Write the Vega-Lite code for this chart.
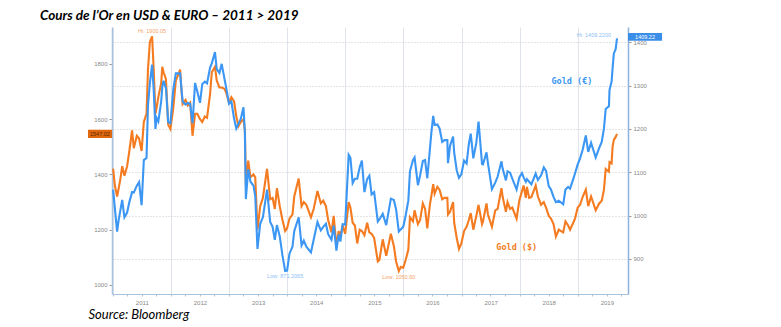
{
  "$schema": "https://vega.github.io/schema/vega-lite/v6.json",
  "width": 516,
  "height": 267,
  "autosize": {"type": "none"},
  "padding": {"left": 112, "top": 27, "right": 153, "bottom": 33},
  "background": "white",
  "config": {"view": {"stroke": null}, "font": "Lato"},
  "title": {
    "text": "Cours de l’Or en USD & EURO – 2011 > 2019",
    "anchor": "start",
    "frame": "group",
    "dx": -72,
    "dy": 11,
    "offset": 5,
    "baseline": "alphabetic",
    "font": "Lato",
    "fontSize": 13.5,
    "fontStyle": "italic",
    "fontWeight": "bold",
    "color": "#000"
  },
  "datasets": {
    "gold": [
      {"date":"2011-01-03","usd":1421,"eur":1060},
      {"date":"2011-01-14","usd":1360,"eur":1017},
      {"date":"2011-01-28","usd":1320,"eur":963},
      {"date":"2011-02-07","usd":1350,"eur":990},
      {"date":"2011-02-18","usd":1385,"eur":1013},
      {"date":"2011-03-01","usd":1430,"eur":1036},
      {"date":"2011-03-15","usd":1395,"eur":996},
      {"date":"2011-04-01","usd":1430,"eur":1007},
      {"date":"2011-04-15","usd":1485,"eur":1031},
      {"date":"2011-05-02","usd":1560,"eur":1054},
      {"date":"2011-05-13","usd":1495,"eur":1053},
      {"date":"2011-06-01","usd":1540,"eur":1069},
      {"date":"2011-06-15","usd":1530,"eur":1077},
      {"date":"2011-07-01","usd":1485,"eur":1024},
      {"date":"2011-07-15","usd":1590,"eur":1128},
      {"date":"2011-08-01","usd":1620,"eur":1133},
      {"date":"2011-08-10","usd":1780,"eur":1254},
      {"date":"2011-08-22","usd":1880,"eur":1306},
      {"date":"2011-09-05","usd":1900,"eur":1348},
      {"date":"2011-09-15","usd":1780,"eur":1290},
      {"date":"2011-09-26","usd":1620,"eur":1200},
      {"date":"2011-10-03","usd":1640,"eur":1225},
      {"date":"2011-10-14","usd":1680,"eur":1217},
      {"date":"2011-11-01","usd":1730,"eur":1263},
      {"date":"2011-11-08","usd":1790,"eur":1297},
      {"date":"2011-11-16","usd":1770,"eur":1311},
      {"date":"2011-12-01","usd":1745,"eur":1293},
      {"date":"2011-12-15","usd":1580,"eur":1215},
      {"date":"2011-12-29","usd":1565,"eur":1213},
      {"date":"2012-01-16","usd":1640,"eur":1291},
      {"date":"2012-02-01","usd":1740,"eur":1328},
      {"date":"2012-02-28","usd":1780,"eur":1328},
      {"date":"2012-03-08","usd":1700,"eur":1290},
      {"date":"2012-03-15","usd":1655,"eur":1263},
      {"date":"2012-04-02","usd":1670,"eur":1256},
      {"date":"2012-04-16","usd":1650,"eur":1260},
      {"date":"2012-05-01","usd":1660,"eur":1258},
      {"date":"2012-05-16","usd":1540,"eur":1213},
      {"date":"2012-06-01","usd":1620,"eur":1306},
      {"date":"2012-06-15","usd":1620,"eur":1286},
      {"date":"2012-07-02","usd":1600,"eur":1260},
      {"date":"2012-07-16","usd":1590,"eur":1303},
      {"date":"2012-08-01","usd":1610,"eur":1309},
      {"date":"2012-08-15","usd":1605,"eur":1305},
      {"date":"2012-09-03","usd":1690,"eur":1341},
      {"date":"2012-09-14","usd":1770,"eur":1351},
      {"date":"2012-10-04","usd":1790,"eur":1377},
      {"date":"2012-10-15","usd":1740,"eur":1338},
      {"date":"2012-11-01","usd":1715,"eur":1329},
      {"date":"2012-11-15","usd":1715,"eur":1350},
      {"date":"2012-12-03","usd":1710,"eur":1315},
      {"date":"2012-12-14","usd":1695,"eur":1294},
      {"date":"2012-12-31","usd":1660,"eur":1258},
      {"date":"2013-01-15","usd":1680,"eur":1263},
      {"date":"2013-02-01","usd":1665,"eur":1224},
      {"date":"2013-02-15","usd":1610,"eur":1201},
      {"date":"2013-03-01","usd":1575,"eur":1212},
      {"date":"2013-03-15","usd":1590,"eur":1223},
      {"date":"2013-04-01","usd":1600,"eur":1250},
      {"date":"2013-04-10","usd":1560,"eur":1191},
      {"date":"2013-04-16","usd":1360,"eur":1038},
      {"date":"2013-05-01","usd":1450,"eur":1107},
      {"date":"2013-05-15","usd":1390,"eur":1078},
      {"date":"2013-06-03","usd":1400,"eur":1069},
      {"date":"2013-06-14","usd":1390,"eur":1045},
      {"date":"2013-06-28","usd":1200,"eur":923},
      {"date":"2013-07-15","usd":1285,"eur":981},
      {"date":"2013-08-01","usd":1315,"eur":996},
      {"date":"2013-08-27","usd":1420,"eur":1060},
      {"date":"2013-09-16","usd":1310,"eur":985},
      {"date":"2013-10-01","usd":1315,"eur":974},
      {"date":"2013-10-15","usd":1275,"eur":944},
      {"date":"2013-10-28","usd":1350,"eur":978},
      {"date":"2013-11-15","usd":1285,"eur":952},
      {"date":"2013-12-02","usd":1235,"eur":908},
      {"date":"2013-12-19","usd":1195,"eur":872},
      {"date":"2013-12-31","usd":1205,"eur":873},
      {"date":"2014-01-15","usd":1240,"eur":912},
      {"date":"2014-02-03","usd":1255,"eur":928},
      {"date":"2014-02-14","usd":1320,"eur":964},
      {"date":"2014-03-14","usd":1385,"eur":996},
      {"date":"2014-04-01","usd":1285,"eur":931},
      {"date":"2014-04-15","usd":1300,"eur":942},
      {"date":"2014-05-01","usd":1290,"eur":928},
      {"date":"2014-05-30","usd":1245,"eur":915},
      {"date":"2014-06-16","usd":1275,"eur":944},
      {"date":"2014-07-10","usd":1340,"eur":985},
      {"date":"2014-07-31","usd":1295,"eur":966},
      {"date":"2014-08-15","usd":1305,"eur":974},
      {"date":"2014-09-01","usd":1285,"eur":981},
      {"date":"2014-09-15","usd":1235,"eur":957},
      {"date":"2014-10-06","usd":1190,"eur":944},
      {"date":"2014-10-20","usd":1250,"eur":977},
      {"date":"2014-11-06","usd":1140,"eur":919},
      {"date":"2014-11-20","usd":1195,"eur":956},
      {"date":"2014-12-01","usd":1175,"eur":940},
      {"date":"2014-12-15","usd":1215,"eur":980},
      {"date":"2014-12-31","usd":1185,"eur":979},
      {"date":"2015-01-22","usd":1300,"eur":1140},
      {"date":"2015-02-02","usd":1280,"eur":1133},
      {"date":"2015-02-16","usd":1225,"eur":1075},
      {"date":"2015-03-02","usd":1215,"eur":1085},
      {"date":"2015-03-17","usd":1150,"eur":1085},
      {"date":"2015-04-01","usd":1200,"eur":1111},
      {"date":"2015-04-15","usd":1195,"eur":1127},
      {"date":"2015-05-01","usd":1180,"eur":1054},
      {"date":"2015-05-18","usd":1225,"eur":1084},
      {"date":"2015-06-01","usd":1190,"eur":1092},
      {"date":"2015-06-15","usd":1185,"eur":1049},
      {"date":"2015-07-01","usd":1170,"eur":1054},
      {"date":"2015-07-24","usd":1085,"eur":986},
      {"date":"2015-08-03","usd":1090,"eur":991},
      {"date":"2015-08-24","usd":1165,"eur":1004},
      {"date":"2015-09-15","usd":1105,"eur":978},
      {"date":"2015-10-14","usd":1185,"eur":1039},
      {"date":"2015-11-02","usd":1140,"eur":1036},
      {"date":"2015-11-16","usd":1085,"eur":1014},
      {"date":"2015-12-03","usd":1050,"eur":963},
      {"date":"2015-12-15","usd":1065,"eur":968},
      {"date":"2015-12-31","usd":1062,"eur":974},
      {"date":"2016-01-15","usd":1090,"eur":1000},
      {"date":"2016-02-01","usd":1128,"eur":1035},
      {"date":"2016-02-11","usd":1245,"eur":1102},
      {"date":"2016-03-01","usd":1230,"eur":1128},
      {"date":"2016-03-11","usd":1270,"eur":1134},
      {"date":"2016-04-01","usd":1220,"eur":1070},
      {"date":"2016-04-15","usd":1235,"eur":1093},
      {"date":"2016-05-02","usd":1295,"eur":1126},
      {"date":"2016-05-16","usd":1275,"eur":1128},
      {"date":"2016-05-30","usd":1205,"eur":1086},
      {"date":"2016-06-15","usd":1290,"eur":1152},
      {"date":"2016-06-24","usd":1320,"eur":1189},
      {"date":"2016-07-06","usd":1365,"eur":1230},
      {"date":"2016-07-15","usd":1330,"eur":1209},
      {"date":"2016-08-01","usd":1355,"eur":1210},
      {"date":"2016-08-15","usd":1345,"eur":1201},
      {"date":"2016-09-01","usd":1310,"eur":1170},
      {"date":"2016-09-15","usd":1315,"eur":1174},
      {"date":"2016-10-03","usd":1315,"eur":1174},
      {"date":"2016-10-07","usd":1255,"eur":1121},
      {"date":"2016-10-20","usd":1265,"eur":1161},
      {"date":"2016-11-08","usd":1300,"eur":1182},
      {"date":"2016-11-15","usd":1225,"eur":1145},
      {"date":"2016-12-01","usd":1170,"eur":1104},
      {"date":"2016-12-15","usd":1130,"eur":1087},
      {"date":"2016-12-30","usd":1150,"eur":1095},
      {"date":"2017-01-16","usd":1195,"eur":1127},
      {"date":"2017-02-01","usd":1210,"eur":1120},
      {"date":"2017-02-15","usd":1235,"eur":1165},
      {"date":"2017-02-27","usd":1260,"eur":1189},
      {"date":"2017-03-15","usd":1200,"eur":1132},
      {"date":"2017-04-03","usd":1250,"eur":1168},
      {"date":"2017-04-17","usd":1290,"eur":1217},
      {"date":"2017-05-09","usd":1220,"eur":1119},
      {"date":"2017-05-15","usd":1230,"eur":1118},
      {"date":"2017-06-06","usd":1295,"eur":1146},
      {"date":"2017-06-15","usd":1255,"eur":1121},
      {"date":"2017-07-10","usd":1210,"eur":1061},
      {"date":"2017-07-31","usd":1270,"eur":1076},
      {"date":"2017-08-15","usd":1275,"eur":1090},
      {"date":"2017-09-08","usd":1350,"eur":1125},
      {"date":"2017-09-15","usd":1320,"eur":1109},
      {"date":"2017-10-06","usd":1265,"eur":1081},
      {"date":"2017-10-16","usd":1300,"eur":1102},
      {"date":"2017-11-01","usd":1275,"eur":1099},
      {"date":"2017-11-15","usd":1280,"eur":1085},
      {"date":"2017-12-12","usd":1240,"eur":1060},
      {"date":"2017-12-29","usd":1305,"eur":1088},
      {"date":"2018-01-15","usd":1340,"eur":1098},
      {"date":"2018-01-25","usd":1360,"eur":1088},
      {"date":"2018-02-08","usd":1315,"eur":1078},
      {"date":"2018-02-15","usd":1355,"eur":1084},
      {"date":"2018-03-01","usd":1315,"eur":1078},
      {"date":"2018-03-15","usd":1318,"eur":1072},
      {"date":"2018-04-11","usd":1360,"eur":1097},
      {"date":"2018-04-25","usd":1320,"eur":1082},
      {"date":"2018-05-15","usd":1290,"eur":1093},
      {"date":"2018-06-01","usd":1300,"eur":1111},
      {"date":"2018-06-15","usd":1280,"eur":1103},
      {"date":"2018-07-02","usd":1250,"eur":1068},
      {"date":"2018-07-16","usd":1240,"eur":1060},
      {"date":"2018-08-01","usd":1220,"eur":1043},
      {"date":"2018-08-16","usd":1175,"eur":1031},
      {"date":"2018-09-03","usd":1200,"eur":1034},
      {"date":"2018-09-17","usd":1195,"eur":1030},
      {"date":"2018-10-01","usd":1190,"eur":1026},
      {"date":"2018-10-15","usd":1230,"eur":1060},
      {"date":"2018-11-01","usd":1215,"eur":1066},
      {"date":"2018-11-13","usd":1200,"eur":1062},
      {"date":"2018-12-03","usd":1225,"eur":1084},
      {"date":"2018-12-14","usd":1240,"eur":1097},
      {"date":"2018-12-31","usd":1280,"eur":1118},
      {"date":"2019-01-15","usd":1290,"eur":1132},
      {"date":"2019-02-01","usd":1320,"eur":1153},
      {"date":"2019-02-20","usd":1345,"eur":1185},
      {"date":"2019-03-07","usd":1285,"eur":1147},
      {"date":"2019-03-25","usd":1320,"eur":1168},
      {"date":"2019-04-23","usd":1270,"eur":1134},
      {"date":"2019-05-15","usd":1295,"eur":1156},
      {"date":"2019-05-31","usd":1305,"eur":1170},
      {"date":"2019-06-14","usd":1345,"eur":1201},
      {"date":"2019-06-25","usd":1420,"eur":1246},
      {"date":"2019-07-15","usd":1410,"eur":1252},
      {"date":"2019-07-19","usd":1445,"eur":1290},
      {"date":"2019-08-01","usd":1440,"eur":1309},
      {"date":"2019-08-07","usd":1500,"eur":1339},
      {"date":"2019-08-15","usd":1525,"eur":1374},
      {"date":"2019-08-26","usd":1535,"eur":1383},
      {"date":"2019-09-04","usd":1547,"eur":1409}
    ],
    "usdTag": [{"date":"2010-07-29","date2":"2010-12-27","usd":1532,"usd2":1562,"mid":"2010-10-12","val":1547,"label":"1547.02"}],
    "eurTag": [{"date":"2019-11-12","date2":"2020-06-13","eur":1403,"eur2":1421,"mid":"2020-02-27","val":1412,"label":"1409.22"}],
    "usdName": [{"date":"2017-12-13","usd":1138,"label":"Gold ($)"}],
    "eurName": [{"date":"2018-11-25","eur":1310,"label":"Gold (€)"}],
    "usdHi": [{"date":"2011-09-05","usd":1900,"label":"Hi: 1900.05"}],
    "usdLo": [{"date":"2015-12-03","usd":1050,"label":"Low: 1050.60"}],
    "eurHi": [{"date":"2019-09-04","eur":1409,"label":"Hi: 1409.2200"}],
    "eurLo": [{"date":"2013-12-19","eur":872,"label":"Low: 871.2065"}]
  },
  "layer": [
    {
      "encoding": {
        "x": {
          "field": "date", "type": "temporal",
          "scale": {"domain": [{"year":2010,"month":12,"date":27},{"year":2019,"month":11,"date":12}]},
          "axis": {
            "tickCount": {"interval": "month", "step": 3},
            "labelExpr": "month(datum.value)==0 ? timeFormat(datum.value,'%Y') : ''",
            "labelOffset": 29,
            "labelFlush": false,
            "labelOverlap": false,
            "labelFont": "Liberation Sans",
            "labelFontSize": 6,
            "labelColor": "#888",
            "labelPadding": 3,
            "grid": true,
            "gridColor": "#dfe4ea",
            "gridOpacity": {"condition": {"test": "month(datum.value)==0", "value": 1}, "value": 0},
            "domainColor": "#a8c3e0",
            "domainWidth": 1.2,
            "tickColor": "#b8c0c8",
            "tickSize": 2,
            "title": "Source: Bloomberg",
            "titleX": -24,
            "titleY": 24,
            "titleAlign": "left",
            "titleBaseline": "alphabetic",
            "titleFont": "Lato",
            "titleFontSize": 13,
            "titleFontStyle": "italic",
            "titleFontWeight": "normal",
            "titleColor": "#000"
          }
        },
        "y": {
          "field": "usd", "type": "quantitative",
          "scale": {"domain": [967, 1934], "zero": false, "nice": false},
          "axis": {
            "orient": "left",
            "values": [1000, 1200, 1400, 1600, 1800],
            "format": "d",
            "grid": false,
            "labelFont": "Liberation Sans",
            "labelFontSize": 6,
            "labelColor": "#888",
            "labelPadding": 2,
            "tickSize": 3,
            "tickColor": "#999",
            "domainColor": "#a8c3e0",
            "domainWidth": 1.5,
            "title": null
          }
        }
      },
      "layer": [
        {"data": {"name": "gold"}, "mark": {"type": "line", "color": "#f47b20", "strokeWidth": 2.1}},
        {"data": {"name": "usdTag"}, "mark": {"type": "rect", "color": "#e0680f"},
         "encoding": {"x2": {"field": "date2"}, "y2": {"field": "usd2"}}},
        {"data": {"name": "usdTag"}, "mark": {"type": "text", "color": "#5a2a05", "fontSize": 5.5, "font": "Liberation Sans"},
         "encoding": {"x": {"field": "mid", "type": "temporal"}, "y": {"field": "val", "type": "quantitative"}, "text": {"field": "label"}}},
        {"data": {"name": "usdName"}, "mark": {"type": "text", "color": "#f47b20", "fontSize": 8.5, "font": "DejaVu Sans Mono", "fontWeight": "bold"},
         "encoding": {"text": {"field": "label"}}},
        {"data": {"name": "usdHi"}, "mark": {"type": "text", "color": "#f6a468", "fontSize": 5.5, "font": "Liberation Sans", "dy": -5},
         "encoding": {"text": {"field": "label"}}},
        {"data": {"name": "usdLo"}, "mark": {"type": "text", "color": "#f6a468", "fontSize": 5.5, "font": "Liberation Sans", "dy": 6},
         "encoding": {"text": {"field": "label"}}}
      ]
    },
    {
      "encoding": {
        "x": {
          "field": "date", "type": "temporal",
          "scale": {"domain": [{"year":2010,"month":12,"date":27},{"year":2019,"month":11,"date":12}]}
        },
        "y": {
          "field": "eur", "type": "quantitative",
          "scale": {"domain": [819, 1435], "zero": false, "nice": false},
          "axis": {
            "orient": "right",
            "values": [900, 1000, 1100, 1200, 1300, 1400],
            "format": "d",
            "grid": true,
            "gridDash": [1, 2],
            "gridColor": "#c8c8c8",
            "labelFont": "Liberation Sans",
            "labelFontSize": 6,
            "labelColor": "#888",
            "labelPadding": 2,
            "tickSize": 3,
            "tickColor": "#999",
            "domainColor": "#8fb3dc",
            "domainWidth": 1.5,
            "title": null
          }
        }
      },
      "layer": [
        {"data": {"name": "gold"}, "mark": {"type": "line", "color": "#3b97f3", "strokeWidth": 2.1}},
        {"data": {"name": "eurTag"}, "mark": {"type": "rect", "color": "#3a8ee8"},
         "encoding": {"x2": {"field": "date2"}, "y2": {"field": "eur2"}}},
        {"data": {"name": "eurTag"}, "mark": {"type": "text", "color": "#ffffff", "fontSize": 5.5, "font": "Liberation Sans"},
         "encoding": {"x": {"field": "mid", "type": "temporal"}, "y": {"field": "val", "type": "quantitative"}, "text": {"field": "label"}}},
        {"data": {"name": "eurName"}, "mark": {"type": "text", "color": "#3b97f3", "fontSize": 8.5, "font": "DejaVu Sans Mono", "fontWeight": "bold"},
         "encoding": {"text": {"field": "label"}}},
        {"data": {"name": "eurHi"}, "mark": {"type": "text", "color": "#8cc0f5", "fontSize": 5.5, "font": "Liberation Sans", "align": "right", "dx": -6, "dy": -3},
         "encoding": {"text": {"field": "label"}}},
        {"data": {"name": "eurLo"}, "mark": {"type": "text", "color": "#8cc0f5", "fontSize": 5.5, "font": "Liberation Sans", "dy": 5},
         "encoding": {"text": {"field": "label"}}}
      ]
    }
  ],
  "resolve": {"scale": {"y": "independent"}, "axis": {"y": "independent"}}
}
